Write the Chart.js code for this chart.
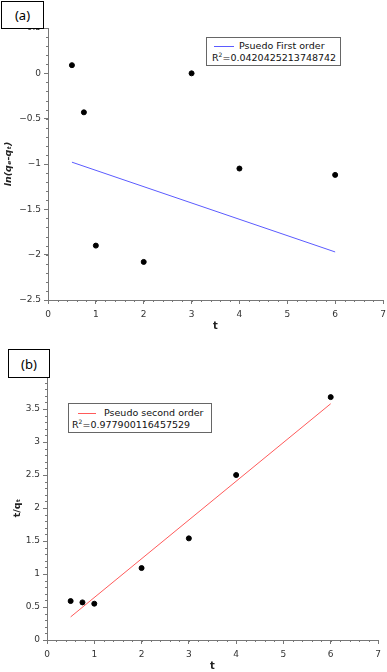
<!DOCTYPE html>
<html>
<head>
<meta charset="utf-8">
<script src="https://cdn.jsdelivr.net/npm/chart.js@4.4.1/dist/chart.umd.min.js"></script>
<style>
  body { margin: 0; background: #fff; font-family: 'DejaVu Sans', sans-serif; }
  #page { position: relative; width: 387px; height: 672px; overflow: hidden; }
  .panel { position: absolute; left: 0; width: 387px; }
  .tag {
    position: absolute; box-sizing: border-box; background: #fff;
    border: 1.5px solid #000; font: 13px 'Noto Sans', sans-serif;
    display: flex; align-items: center; justify-content: center;
  }
  .legend {
    position: absolute; box-sizing: border-box; background: #fff;
    border: 1px solid #666; font-size: 9.5px; color: #111; line-height: 12px;
  }
  .legend .swatch { position: absolute; height: 1px; }
  .legend .txt { position: absolute; white-space: nowrap; }
  .legend sup { font-size: 6px; vertical-align: top; line-height: 6px; }
</style>
</head>
<body>
<div id="page">
  <div class="panel" style="top:0;height:336px"><canvas id="chartA"></canvas></div>
  <div class="panel" style="top:345px;height:327px"><canvas id="chartB"></canvas></div>

  <div class="tag" style="left:1px;top:1px;width:43px;height:28px">(a)</div>
  <div class="legend" style="left:206px;top:37px;width:135px;height:29px">
    <div class="swatch" style="left:7px;top:8px;width:20px;background:#5b5bff"></div>
    <div class="txt" style="left:32px;top:2px">Psuedo First order</div>
    <div class="txt" style="left:5px;top:14px">R<sup>2</sup>=0.0420425213748742</div>
  </div>

  <div class="tag" style="left:8px;top:349px;width:42px;height:29px">(b)</div>
  <div class="legend" style="left:68px;top:403px;width:144px;height:30px">
    <div class="swatch" style="left:9px;top:9px;width:18px;background:#ff5a5a"></div>
    <div class="txt" style="left:35px;top:3px">Pseudo second order</div>
    <div class="txt" style="left:3px;top:15px">R<sup>2</sup>=0.977900116457529</div>
  </div>
</div>

<script>
// --- Data ---
const timeA = [0.5, 0.75, 1, 2, 3, 4, 6];
const lnQA = [0.09, -0.43, -1.9, -2.08, 0.0, -1.05, -1.12];
const fitTimeA = [0.5, 6];
const fitLnA = [-0.98, -1.97];

const timeB = [0.5, 0.75, 1, 2, 3, 4, 6];
const tOverQB = [0.59, 0.57, 0.55, 1.09, 1.54, 2.5, 3.68];
const fitTimeB = [0.5, 6];
const fitTOverQB = [0.35, 3.58];

const xTicks = [0, 1, 2, 3, 4, 5, 6, 7];
const yTicksA = [-2.5, -2, -1.5, -1, -0.5, 0, 0.5];
const yTicksB = [0, 0.5, 1, 1.5, 2, 2.5, 3, 3.5, 4];

// --- Helpers ---
const toPoints = (xs, ys) => xs.map((x, i) => ({ x, y: ys[i] }));
const fmt = v => (v < 0 ? '\u2212' + String(-v) : String(v));

// small outward minor ticks, placed through the chart's own scales
const minorTicks = {
    id: 'minorTicks',
    afterDraw(chart, args, opts) {
        const { ctx, chartArea } = chart;
        ctx.save();
        ctx.strokeStyle = '#777';
        ctx.lineWidth = 1;
        ctx.beginPath();
        const xs = chart.scales.x;
        for (let v = xs.min; v <= xs.max + 1e-9; v += opts.xStep) {
            const p = Math.round(xs.getPixelForValue(v)) + 0.5;
            ctx.moveTo(p, chartArea.bottom);
            ctx.lineTo(p, chartArea.bottom + 2);
        }
        const ys = chart.scales.y;
        for (let v = ys.min; v <= ys.max + 1e-9; v += opts.yStep) {
            const p = Math.round(ys.getPixelForValue(v)) + 0.5;
            ctx.moveTo(chartArea.left - 2, p);
            ctx.lineTo(chartArea.left, p);
        }
        ctx.stroke();
        ctx.restore();
    }
};

const makeChart = (canvasId, cfg) => {
    const tickFont = { family: 'DejaVu Sans', size: 9 };
    return new Chart(document.getElementById(canvasId), {
        type: 'scatter',
        data: {
            datasets: [
                {
                    data: toPoints(cfg.xs, cfg.ys),
                    backgroundColor: '#000',
                    borderColor: '#000',
                    pointRadius: 2.5,
                    pointHoverRadius: 2.5
                },
                {
                    data: toPoints(cfg.fitXs, cfg.fitYs),
                    showLine: true,
                    borderColor: cfg.lineColor,
                    borderWidth: 1,
                    pointRadius: 0,
                    fill: false
                }
            ]
        },
        options: {
            responsive: true,
            maintainAspectRatio: false,
            animation: false,
            events: [],
            layout: { padding: cfg.padding },
            plugins: {
                legend: { display: false },
                tooltip: { enabled: false },
                minorTicks: { xStep: 0.2, yStep: 0.1 }
            },
            scales: {
                x: {
                    type: 'linear',
                    min: 0, max: 7,
                    afterBuildTicks: s => { s.ticks = xTicks.map(value => ({ value })); },
                    afterFit: s => {
                        s.height = cfg.xHeight;
                        s.paddingLeft = 0;
                        s.paddingRight = 0;
                    },
                    grid: { drawOnChartArea: false, tickLength: 4, color: '#777' },
                    border: { color: '#777' },
                    ticks: { color: '#333', font: tickFont, padding: 5, callback: fmt, maxRotation: 0 },
                    title: {
                        display: true, text: 't', color: '#222',
                        font: { family: 'DejaVu Sans', size: 10, weight: 'bold' },
                        padding: cfg.xTitlePad
                    }
                },
                y: {
                    type: 'linear',
                    min: cfg.yMin, max: cfg.yMax,
                    afterBuildTicks: s => { s.ticks = cfg.yTicks.map(value => ({ value })); },
                    afterFit: s => { s.width = cfg.yWidth; },
                    grid: { drawOnChartArea: false, tickLength: 4, color: '#777' },
                    border: { color: '#777' },
                    ticks: { color: '#333', font: tickFont, padding: 3, callback: fmt },
                    title: {
                        display: true, text: cfg.yTitle, color: '#222',
                        font: { family: 'DejaVu Sans', size: 9.5, weight: 'bold', style: cfg.yTitleStyle },
                        padding: cfg.yTitlePad
                    }
                }
            }
        },
        plugins: [minorTicks]
    });
};

makeChart('chartA', {
    xs: timeA, ys: lnQA, fitXs: fitTimeA, fitYs: fitLnA,
    lineColor: '#5b5bff',
    yMin: -2.5, yMax: 0.5, yTicks: yTicksA,
    yTitle: 'ln(q\u2091-q\u209C)', yTitleStyle: 'italic',
    padding: { top: 28, right: 4, left: 0, bottom: 0 },
    xHeight: 36, yWidth: 48,
    xTitlePad: { top: 0, bottom: 4 },
    yTitlePad: { top: 3, bottom: 3 }
});

makeChart('chartB', {
    xs: timeB, ys: tOverQB, fitXs: fitTimeB, fitYs: fitTOverQB,
    lineColor: '#ff5a5a',
    yMin: 0, yMax: 4, yTicks: yTicksB,
    yTitle: 't/q\u209C', yTitleStyle: 'normal',
    padding: { top: 31, right: 9, left: 0, bottom: 0 },
    xHeight: 32, yWidth: 47,
    xTitlePad: { top: 0, bottom: 0 },
    yTitlePad: { top: 12, bottom: 12 }
});
</script>
</body>
</html>
